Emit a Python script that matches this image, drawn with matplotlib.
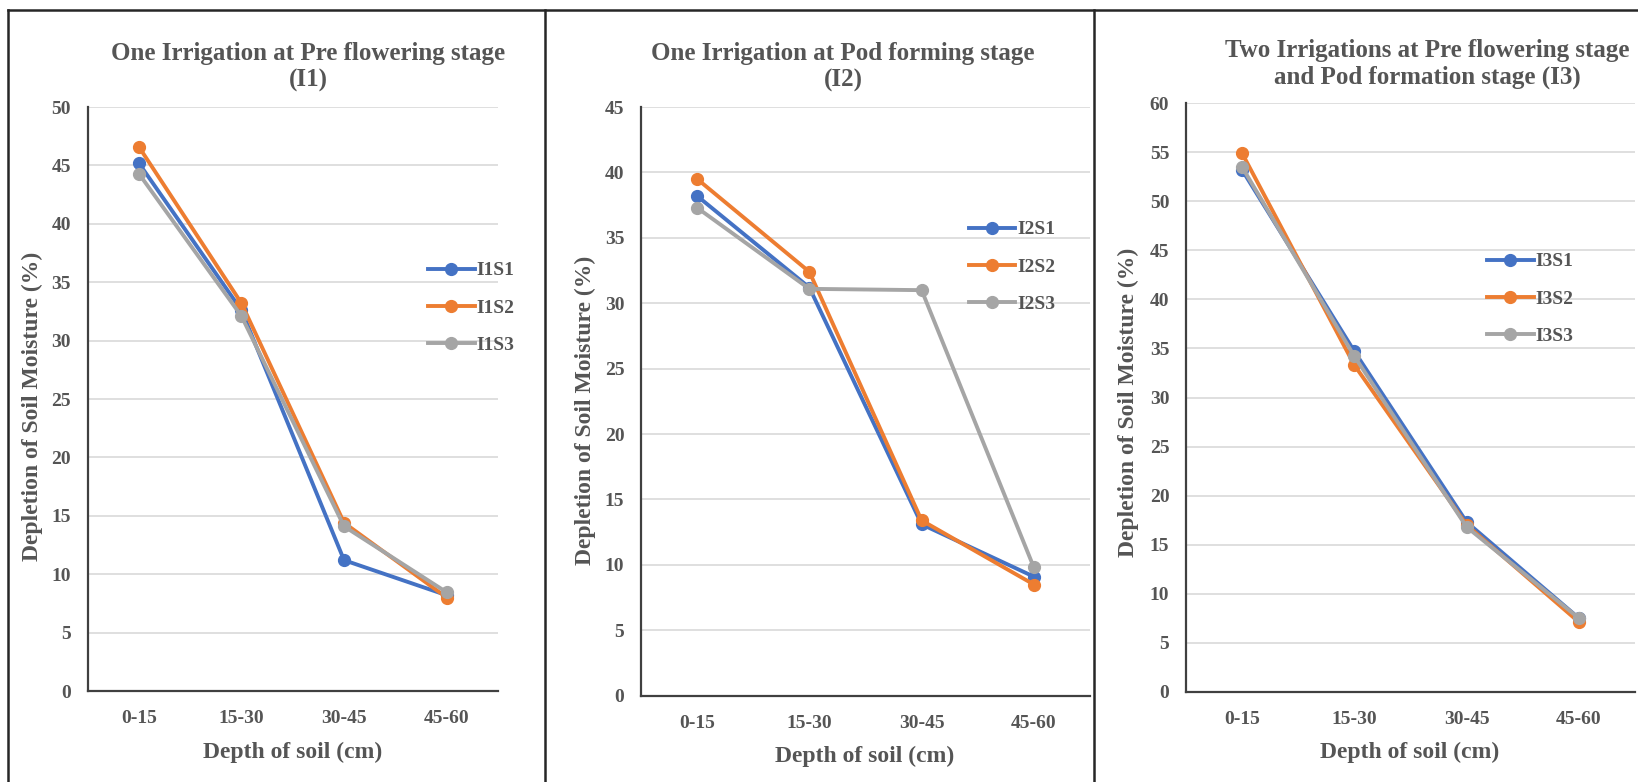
import matplotlib
matplotlib.use("Agg")
import matplotlib.pyplot as plt
from matplotlib.lines import Line2D

plt.rcParams['font.family'] = ['Liberation Serif', 'DejaVu Serif']
plt.rcParams['font.weight'] = 'bold'

# ---------------- data ----------------
depths = ["0-15", "15-30", "30-45", "45-60"]

i1_labels = ["I1S1", "I1S2", "I1S3"]
i1s1 = [45.2, 32.6, 11.2, 8.2]
i1s2 = [46.6, 33.2, 14.4, 8.0]
i1s3 = [44.3, 32.1, 14.1, 8.45]

i2_labels = ["I2S1", "I2S2", "I2S3"]
i2s1 = [38.2, 31.2, 13.1, 9.1]
i2s2 = [39.5, 32.4, 13.4, 8.5]
i2s3 = [37.3, 31.1, 31.0, 9.8]

i3_labels = ["I3S1", "I3S2", "I3S3"]
i3s1 = [53.2, 34.7, 17.3, 7.5]
i3s2 = [54.9, 33.3, 17.0, 7.1]
i3s3 = [53.5, 34.2, 16.8, 7.5]

titles = ["One Irrigation at Pre flowering stage\n(I1)",
          "One Irrigation at Pod forming stage\n(I2)",
          "Two Irrigations at Pre flowering stage\nand Pod formation stage (I3)"]
y_maxes = [50, 45, 60]
x_label = "Depth of soil (cm)"
y_label = "Depletion of Soil Moisture (%)"

colors = ["#4472C4", "#ED7D31", "#A5A5A5"]
text_color = "#555555"

W, H = 1638, 782
fig = plt.figure(figsize=(W / 100, H / 100), dpi=100)


def fx(px):
    return px / W


def fy(py):
    return 1 - py / H


# pixel layout: (left, right, top, bottom) of plot area
boxes = [(87.5, 498, 107, 691), (641, 1090, 107, 695.7), (1186, 1635, 103.3, 691.7)]
title_pos = [(308, 67), (843, 67), (1427, 64)]
xlabel_pos = [(293, 752), (865, 756), (1410, 752)]
ylabel_pos = [(32, 406), (585, 410), (1128, 402)]
legend_pos = [(428, 308), (968.6, 267), (1487, 299)]

panels = [(i1_labels, [i1s1, i1s2, i1s3]),
          (i2_labels, [i2s1, i2s2, i2s3]),
          (i3_labels, [i3s1, i3s2, i3s3])]

x = list(range(len(depths)))

for k, (labels, series) in enumerate(panels):
    l, r, t, b = boxes[k]
    ax = fig.add_axes([fx(l), fy(b), fx(r - l), (b - t) / H])
    for s, lab, c in zip(series, labels, colors):
        ax.plot(x, s, color=c, lw=2.8, marker='o', ms=8.5, label=lab,
                solid_joinstyle='round', zorder=3)
    ax.set_xlim(-0.5, len(depths) - 0.5)
    ax.set_ylim(0, y_maxes[k])
    ax.set_yticks(range(0, y_maxes[k] + 1, 5))
    ax.set_xticks(x)
    ax.set_xticklabels(depths)
    ax.grid(axis='y', color='#D9D9D9', lw=1.2, zorder=0)
    ax.set_axisbelow(True)
    for sp in ['top', 'right']:
        ax.spines[sp].set_visible(False)
    for sp in ['left', 'bottom']:
        ax.spines[sp].set_color('#404040')
        ax.spines[sp].set_linewidth(1.6)
    ax.tick_params(axis='both', length=0, labelsize=14, colors=text_color)
    ax.tick_params(axis='y', pad=12)
    ax.tick_params(axis='x', pad=14)
    for tl in ax.get_xticklabels() + ax.get_yticklabels():
        tl.set_fontweight('bold')

    fig.text(fx(title_pos[k][0]), fy(title_pos[k][1]), titles[k], ha='center',
             va='center', fontsize=18, fontweight='bold', color=text_color,
             multialignment='center', linespacing=1.15)
    fig.text(fx(xlabel_pos[k][0]), fy(xlabel_pos[k][1]), x_label, ha='center',
             va='center', fontsize=17, fontweight='bold', color=text_color)
    fig.text(fx(ylabel_pos[k][0]), fy(ylabel_pos[k][1]), y_label, ha='center',
             va='center', rotation=90, fontsize=17, fontweight='bold',
             color=text_color)

    leg = ax.legend(loc='center left',
                    bbox_to_anchor=(fx(legend_pos[k][0]), fy(legend_pos[k][1])),
                    bbox_transform=fig.transFigure, frameon=False,
                    borderpad=0, borderaxespad=0, handlelength=2.4,
                    handletextpad=0.1, labelspacing=1.02,
                    prop={'family': 'Liberation Serif', 'weight': 'bold', 'size': 14})
    for txt in leg.get_texts():
        txt.set_color(text_color)

# outer frame and dividers
frame_kw = dict(color='#262626', lw=1.8, transform=fig.transFigure)
fig.add_artist(Line2D([fx(8), 1], [fy(10), fy(10)], **frame_kw))
for xv in [8, 545, 1094]:
    fig.add_artist(Line2D([fx(xv), fx(xv)], [fy(10), 0], **frame_kw))

fig.savefig("out.png", dpi=100, facecolor='white')
